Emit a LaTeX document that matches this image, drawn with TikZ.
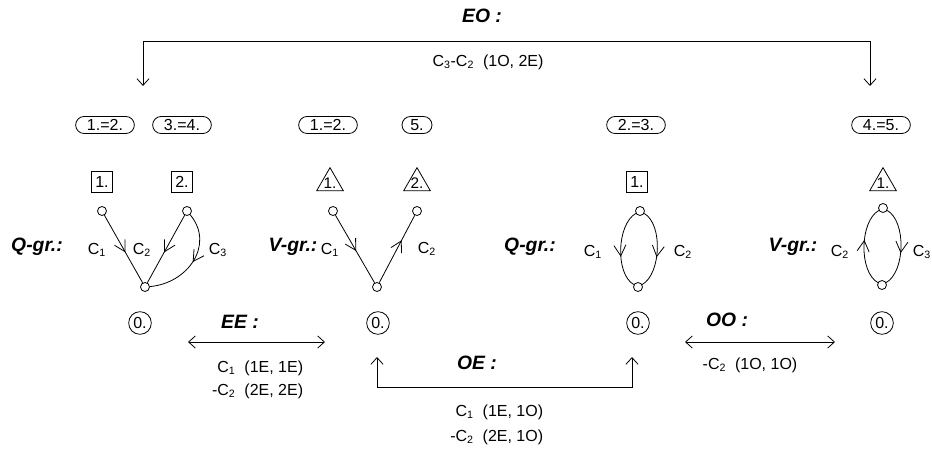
\documentclass[tikz,border=0pt]{standalone}
\usepackage{fontspec}
\setmainfont{Liberation Sans}
\usepackage{tikz}
\usetikzlibrary{calc}
\usetikzlibrary{shapes.geometric}
\usetikzlibrary{arrows.meta}
\usetikzlibrary{decorations.markings}

\begin{document}
\begin{tikzpicture}[x=0.75pt,y=-0.75pt,line width=0.6pt,
    >={Straight Barb[length=5pt,width=9pt]},
    title/.style={font=\fontsize{14.5}{17}\selectfont\bfseries\itshape},
    lab/.style={font=\fontsize{12}{14}\selectfont},
    info/.style={font=\fontsize{12}{14}\selectfont},
    pill/.style={draw,rounded corners=6.4pt,minimum height=12.8pt,inner xsep=8.5pt,inner ysep=0pt,lab},
    zero/.style={draw,circle,minimum size=17pt,inner sep=0pt,lab},
    sqbox/.style={draw,rectangle,minimum size=16pt,inner sep=0pt,lab},
    tribox/.style={draw,regular polygon,regular polygon sides=3,minimum size=23pt,inner sep=0pt,
        label={[font=\fontsize{11.5}{13}\selectfont,inner sep=0pt]center:#1}},
    vert/.style={draw,circle,fill=white,minimum size=6.75pt,inner sep=0pt},
    mid/.style={postaction={decorate},decoration={markings,
        mark=at position #1 with {\arrow{Straight Barb[length=8pt,width=9pt]}}}}]
    \useasboundingbox (0,0) rectangle (932,452);

    % Define the vertex positions
    \coordinate (Q1a) at (102,211);
    \coordinate (Q1b) at (187,211);
    \coordinate (Q1o) at (145,287);
    \coordinate (V1a) at (333,211);
    \coordinate (V1b) at (417,211);
    \coordinate (V1o) at (377,287);
    \coordinate (Q2t) at (640,211);
    \coordinate (Q2o) at (638,287);
    \coordinate (V2t) at (883,208);
    \coordinate (V2o) at (882,285);

    % Draw the merged labels
    \node[pill] (P1) at (105,125) {1.=2.};
    \node[pill] (P2) at (182,125) {3.=4.};
    \node[pill] (P3) at (328,125) {1.=2.};
    \node[pill,inner xsep=2pt,minimum width=22.5pt] (P4) at (417,125) {5.};
    \node[pill] (P5) at (636,125) {2.=3.};
    \node[pill] (P6) at (881,125) {4.=5.};

    % Draw the squares and triangles
    \node[sqbox] (S1) at (102,182) {1.};
    \node[sqbox] (S2) at (182,182) {2.};
    \node[tribox=1.] (T1) at (330,183) {};
    \node[tribox=2.] (T2) at (417,183) {};
    \node[sqbox] (S3) at (637,182) {1.};
    \node[tribox=1.] (T3) at (883,183) {};

    % Draw the graph vertices
    \foreach \v in {Q1a,Q1b,Q1o,V1a,V1b,V1o,Q2t,Q2o,V2t,V2o}
        \node[vert] (n\v) at (\v) {};

    % Draw the graph edges
    \draw[mid=0.55] (nQ1a) -- (nQ1o);
    \draw[mid=0.55] (nQ1b) -- (nQ1o);
    \draw[mid=0.5] (nQ1b) to[out=-50,in=5,looseness=1.2] (nQ1o);
    \draw[mid=0.53] (nV1a) -- (nV1o);
    \draw[mid=0.63] (nV1o) -- (nV1b);
    \draw[mid=0.6] (nQ2t) to[out=210,in=150,looseness=0.78] (nQ2o);
    \draw[mid=0.6] (nQ2t) to[out=-30,in=30,looseness=0.78] (nQ2o);
    \draw[mid=0.58] (nV2o) to[out=150,in=210,looseness=0.78] (nV2t);
    \draw[mid=0.58] (nV2t) to[out=-30,in=30,looseness=0.78] (nV2o);

    % Draw the edge names
    \node[title] (QG1) at (37,247) {Q-gr.:};
    \node[lab] (L11) at (97,250) {C\textsubscript{1}};
    \node[lab] (L12) at (142,250) {C\textsubscript{2}};
    \node[lab] (L13) at (218,250) {C\textsubscript{3}};
    \node[title] (VG1) at (293,247) {V-gr.:};
    \node[lab] (L21) at (330,250) {C\textsubscript{1}};
    \node[lab] (L22) at (427,249) {C\textsubscript{2}};
    \node[title] (QG2) at (530,247) {Q-gr.:};
    \node[lab] (L31) at (593,252) {C\textsubscript{1}};
    \node[lab] (L32) at (683,252) {C\textsubscript{2}};
    \node[title] (VG2) at (793,247) {V-gr.:};
    \node[lab] (L42) at (840,252) {C\textsubscript{2}};
    \node[lab] (L43) at (922,252) {C\textsubscript{3}};

    % Draw the zero nodes
    \node[zero] (Z1) at (140,323) {0.};
    \node[zero] (Z2) at (378,323) {0.};
    \node[zero] (Z3) at (638,323) {0.};
    \node[zero] (Z4) at (882,323) {0.};

    % Draw the EO connection
    \coordinate (EOl) at (143,86);
    \coordinate (EOr) at (870,86);
    \draw[<->] (EOl) -- ++(0,-45) -| (EOr);
    \node[title] (EO) at (482,16) {EO :};
    \node[lab] (EOt) at (488,62) {C\textsubscript{3}-C\textsubscript{2}\ \ (1O, 2E)};

    % Draw the EE connection
    \coordinate (EEl) at (188,342);
    \coordinate (EEr) at (325,342);
    \draw[<->] (EEl) -- (EEr);
    \node[title] (EE) at (240,322) {EE :};
    \node[info,anchor=east] (EEt1) at (308,368) {C\textsubscript{1}\ \ (1E, 1E)};
    \node[info,anchor=east] (EEt2) at (308,391) {-C\textsubscript{2}\ \ (2E, 2E)};

    % Draw the OE connection
    \coordinate (OEl) at (377,357);
    \coordinate (OEr) at (632,357);
    \draw[<->] (OEl) -- ++(0,30) -| (OEr);
    \node[title] (OE) at (477,363) {OE :};
    \node[info,anchor=east] (OEt1) at (548,412) {C\textsubscript{1}\ \ (1E, 1O)};
    \node[info,anchor=east] (OEt2) at (548,437) {-C\textsubscript{2}\ \ (2E, 1O)};

    % Draw the OO connection
    \coordinate (OOl) at (685,342);
    \coordinate (OOr) at (835,342);
    \draw[<->] (OOl) -- (OOr);
    \node[title] (OO) at (727,320) {OO :};
    \node[info] (OOt) at (750,365) {-C\textsubscript{2}\ \ (1O, 1O)};
\end{tikzpicture}
\end{document}
